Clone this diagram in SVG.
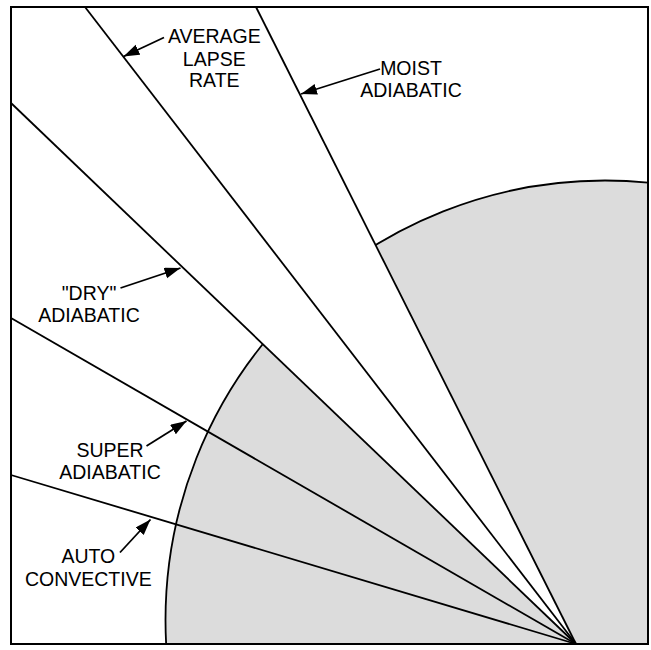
<svg xmlns="http://www.w3.org/2000/svg" width="651" height="650" viewBox="0 0 651 650">
<style>
.ln{stroke:#000;stroke-width:1.8;fill:none}
.lbl{font-family:"Liberation Sans",Arial,sans-serif;font-size:19.5px;fill:#000;text-anchor:middle}
.arr{stroke:#000;stroke-width:1.8;fill:none;marker-end:url(#ah)}
</style>
<defs>
<clipPath id="box"><rect x="11" y="7" width="637" height="637"/></clipPath>
<marker id="ah" markerUnits="userSpaceOnUse" markerWidth="17" markerHeight="12" refX="16" refY="5.5" orient="auto"><path d="M0,0 L16,5.5 L0,11 z" fill="#000"/></marker>
</defs>
<rect x="0" y="0" width="651" height="650" fill="#fff"/>
<g id="background" clip-path="url(#box)">
<circle cx="605" cy="620" r="439.5" fill="#dcdcdc" stroke="#000" stroke-width="1.8"/>
<polygon points="576,644 11,103 11,7 256,7" fill="#fff"/>
</g>
<g id="lines">
<line class="ln" x1="576" y1="644" x2="256" y2="7"/>
<line class="ln" x1="576" y1="644" x2="85" y2="7"/>
<line class="ln" x1="576" y1="644" x2="11" y2="103"/>
<line class="ln" x1="576" y1="644" x2="11" y2="318"/>
<line class="ln" x1="576" y1="644" x2="11" y2="475"/>
</g>
<rect id="frame" x="11" y="7" width="637" height="637" fill="none" stroke="#000" stroke-width="2"/>
<g id="label-average">
<text class="lbl" x="214.3" y="43.3">AVERAGE</text>
<text class="lbl" x="214.3" y="65.5">LAPSE</text>
<text class="lbl" x="214.3" y="87.3">RATE</text>
</g>
<g id="label-moist">
<text class="lbl" x="411" y="75">MOIST</text>
<text class="lbl" x="411" y="96.7">ADIABATIC</text>
</g>
<g id="label-dry">
<text class="lbl" x="89" y="300">"DRY"</text>
<text class="lbl" x="89" y="321.7">ADIABATIC</text>
</g>
<g id="label-super">
<text class="lbl" x="110" y="457.3">SUPER</text>
<text class="lbl" x="110" y="479.3">ADIABATIC</text>
</g>
<g id="label-auto">
<text class="lbl" x="88.3" y="563.3">AUTO</text>
<text class="lbl" x="88.3" y="586">CONVECTIVE</text>
</g>
<g id="connectors">
<line class="arr" x1="164" y1="37.5" x2="123.5" y2="56.5"/>
<line class="arr" x1="380" y1="69" x2="301" y2="94"/>
<line class="arr" x1="120.5" y1="288" x2="180.5" y2="268"/>
<line class="arr" x1="146.5" y1="446" x2="186.5" y2="421"/>
<line class="arr" x1="120" y1="552.5" x2="150.5" y2="519.5"/>
</g>
</svg>
